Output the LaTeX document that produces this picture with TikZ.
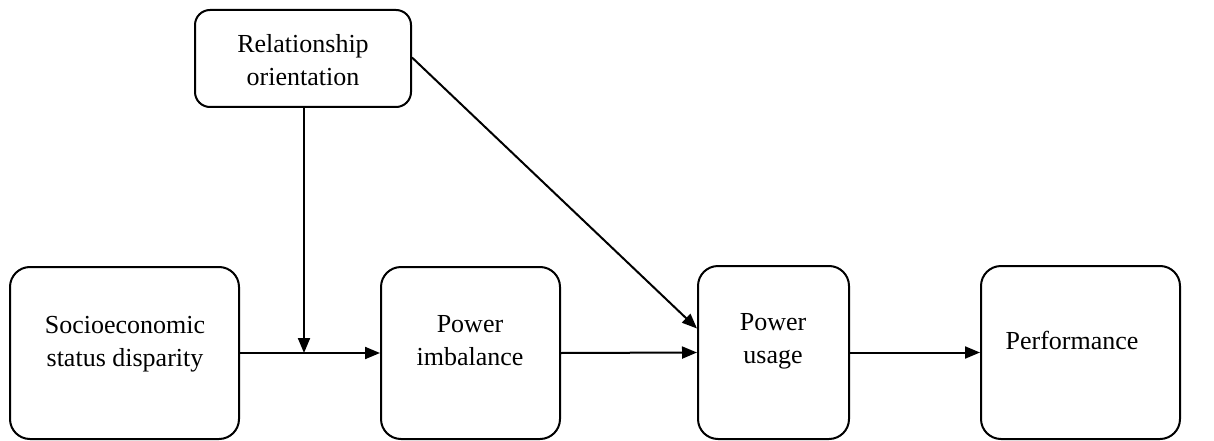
\documentclass[tikz,border=0pt]{standalone}
\usepackage{fontspec}
\setmainfont{Liberation Serif}
\newfontfamily\labelfont{Liberation Serif}
\usetikzlibrary{arrows.meta}
\begin{document}
\begin{tikzpicture}[x=1pt,y=-1pt,
  box/.style={draw, line width=2pt, rounded corners=20pt, inner sep=0pt},
  txt/.style={align=center, font=\labelfont\fontsize{26}{33}\selectfont, inner sep=0pt},
  link/.style={line width=2pt, -{Triangle[length=15pt,width=12pt]}}]
  \useasboundingbox (0,0) rectangle (1214,441);
  % boxes
  \node[box, rounded corners=15pt, minimum width=216pt, minimum height=97pt] (rel) at (303,58.5) {};
  \node[box, minimum width=229pt, minimum height=172pt] (soc) at (124.5,353) {};
  \node[box, minimum width=179pt, minimum height=172pt] (imb) at (470.5,353) {};
  \node[box, minimum width=151pt, minimum height=173pt] (use) at (773.5,352.5) {};
  \node[box, minimum width=199pt, minimum height=173pt] (perf) at (1080.5,352.5) {};
  % labels
  \node[txt] (relt) at (303,60) {Relationship\\orientation};
  \node[txt] (soct) at (125,344) {Socioeconomic\\status disparity};
  \node[txt] (imbt) at (470,341) {Power\\imbalance};
  \node[txt] (uset) at (773,341) {Power\\usage};
  \node[txt] (perft) at (1072,340) {Performance};
  % connectors
  \coordinate (j) at (304,353);
  \draw[link] (soc.east) -- (imb.west);
  \draw[link] (rel.south -| j) -- (j);
  \draw[link] (imb.east) -- (use.west);
  \draw[link] (use.east) -- (perf.west);
  \draw[link] ([yshift=1pt]rel.east) -- ([yshift=24pt]use.west);
\end{tikzpicture}
\end{document}
